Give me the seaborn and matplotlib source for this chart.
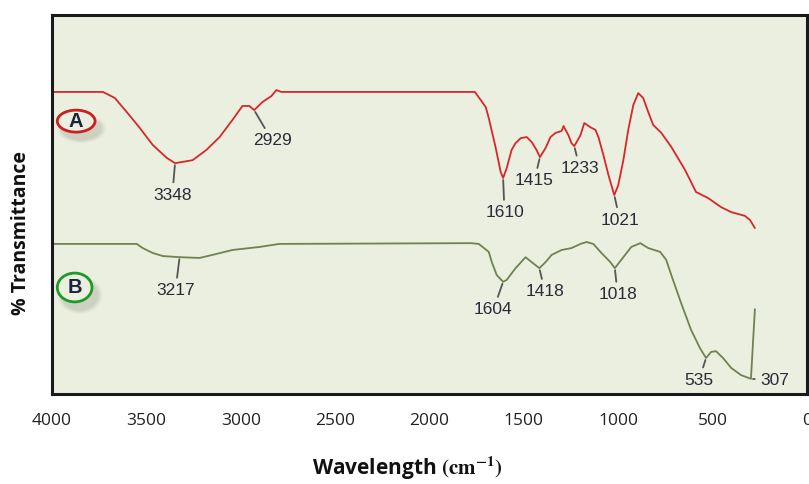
import numpy as np
import pandas as pd
import seaborn as sns
import matplotlib.pyplot as plt
from matplotlib.patches import Ellipse

# spectrum A (wavenumber, % transmittance on an arbitrary offset scale)
wn_a = [4000, 3730, 3667, 3604, 3535, 3466, 3392, 3348, 3255, 3182, 3112, 3044,
        2991, 2954, 2929, 2886, 2838, 2811, 2785, 1760, 1755, 1702, 1686, 1649,
        1623, 1610, 1591, 1565, 1544, 1517, 1485, 1459, 1433, 1415, 1385, 1359,
        1332, 1300, 1290, 1264, 1248, 1233, 1200, 1180, 1148, 1121, 1105, 1079,
        1052, 1026, 1021, 1000, 973, 947, 920, 894, 868, 841, 815, 772, 719,
        646, 588, 524, 455, 402, 329, 302, 276]
t_a = [79.7, 79.7, 78.1, 74.4, 70.2, 65.7, 62.3, 60.9, 61.7, 64.4, 67.8, 72.3,
       76.0, 76.0, 74.9, 77.0, 78.6, 80.2, 79.7, 79.7, 79.4, 75.7, 72.8, 64.9,
       58.6, 57.0, 59.6, 64.4, 66.2, 67.5, 67.8, 66.5, 64.4, 62.5, 64.9, 67.8,
       68.9, 69.4, 70.7, 68.3, 66.2, 65.4, 68.3, 71.5, 70.4, 69.7, 67.8, 63.1,
       57.8, 53.3, 52.5, 55.1, 61.7, 69.7, 76.3, 79.4, 78.1, 74.4, 71.0, 68.9, 65.2,
       59.1, 53.3, 51.7, 49.3, 48.0, 47.0, 45.9, 43.8]

# spectrum B
wn_b = [4000, 3551, 3519, 3466, 3413, 3324, 3218, 3150, 3044, 2901, 2796, 1780,
        1739, 1686, 1670, 1644, 1610, 1591, 1544, 1491, 1459, 1418, 1385, 1353,
        1300, 1248, 1200, 1168, 1132, 1089, 1042, 1018, 973, 931, 883, 841, 778,
        746, 719, 667, 614, 567, 535, 508, 482, 445, 402, 350, 297, 276]
t_b = [39.6, 39.6, 38.5, 37.2, 36.4, 36.1, 35.9, 36.7, 38.0, 38.8, 39.6, 39.8,
       39.6, 37.5, 34.8, 31.4, 29.6, 30.1, 33.2, 36.1, 34.8, 33.2, 34.8, 36.7,
       38.0, 38.5, 39.6, 40.1, 39.6, 37.2, 34.8, 33.2, 36.1, 38.8, 39.8, 38.5, 37.5,
       35.4, 31.4, 24.0, 16.9, 12.1, 9.5, 11.1, 11.3, 9.5, 6.9, 5.0, 4.0, 22.4]

# peak labels: text, wavenumber where the mark sits
peaks_a = ["3348", "2929", "1610", "1415", "1233", "1021"]
mark_a = [3348, 2929, 1610, 1415, 1233, 1021]
peaks_b = ["3217", "1604", "1418", "1018", "535", "307"]
mark_b = [3324, 1610, 1418, 1018, 535, 297]

# text offsets (points) of each label relative to its mark
off_a = [(-2, -23), (13, -22), (1, -25), (-4, -17), (4, -16), (4, -18)]
off_b = [(-3, -24), (-7, -20), (4, -17), (2, -19), (-5, -16), (17, -1)]

xticks = [4000, 3500, 3000, 2500, 2000, 1500, 1000, 500, 0]

sns.set_style("white")
plt.rcParams["font.family"] = ["Open Sans", "DejaVu Sans"]
plt.rcParams["mathtext.fontset"] = "stix"

fig = plt.figure(figsize=(8.09, 4.84), dpi=100)
ax = fig.add_axes([52 / 809, 90 / 484, 755 / 809, 379 / 484])
ax.set_facecolor("#EBEFDF")

df_a = pd.DataFrame({"wn": wn_a, "t": t_a})
df_b = pd.DataFrame({"wn": wn_b, "t": t_b})
red = "#D8262B"
olive = "#6F8250"
sns.lineplot(data=df_a, x="wn", y="t", sort=False, estimator=None,
             color=red, lw=1.3, ax=ax)
sns.lineplot(data=df_b, x="wn", y="t", sort=False, estimator=None,
             color=olive, lw=1.3, ax=ax)

ax.set_xlim(4000, 0)
ax.set_ylim(0, 100)
ax.set_xticks(xticks)
ax.set_xticklabels([str(v) for v in xticks], fontsize=12.5, color="#222222")
ax.set_yticks([])
ax.tick_params(axis="x", direction="out", length=5, width=1.2, color="#888888", pad=9)
for s in ax.spines.values():
    s.set_linewidth(2.2)
    s.set_color("#1a1a1a")


def label_peaks(labels, marks, offsets, wn, t):
    # interpolate on the monotonic part of the curve (B ends with a spike)
    n = len(wn) - 1 if wn is wn_b else len(wn)
    wn_r = np.array(wn[:n])[::-1]
    t_r = np.array(t[:n])[::-1]
    for lab, m, (dx, dy) in zip(labels, marks, offsets):
        y = np.interp(m, wn_r, t_r)
        ax.annotate(lab, xy=(m, y), xytext=(dx, dy), textcoords="offset points",
                    ha="center", va="center", fontsize=12.5, color="#2b2b3a",
                    family=["Liberation Sans", "DejaVu Sans"],
                    arrowprops=dict(arrowstyle="-", color="#555555", lw=1.3,
                                    shrinkA=1.5, shrinkB=1.5))


label_peaks(peaks_a, mark_a, off_a, wn_a, t_a)
label_peaks(peaks_b, mark_b, off_b, wn_b, t_b)

# circled series tags with soft shadow
for name, cx, cy, w, h, ec in [("A", 0.032, 0.720, 0.050, 0.058, "#CC1F22"),
                               ("B", 0.030, 0.281, 0.046, 0.076, "#1E9A28")]:
    for k, a in enumerate([0.05, 0.06, 0.07, 0.08]):
        sh = Ellipse((cx + 0.007, cy - 0.02), w * (1.3 - 0.08 * k), h * (1.3 - 0.08 * k),
                     transform=ax.transAxes, facecolor="#777766", edgecolor="none",
                     alpha=a, zorder=3)
        ax.add_patch(sh)
    ax.add_patch(Ellipse((cx, cy), w, h, transform=ax.transAxes,
                         facecolor="#EBEFDF", edgecolor=ec, lw=2.0, zorder=4))
    ax.text(cx, cy, name, transform=ax.transAxes, ha="center", va="center",
            fontsize=14.5, fontweight="bold", color="#1c2340", zorder=5,
            family=["Liberation Sans", "DejaVu Sans"])

ax.set_xlabel(r"Wavelength $\mathbf{(cm^{-1})}$", fontsize=15, fontweight="bold",
              color="#111111")
ax.xaxis.set_label_coords(0.47, -0.16)
ax.set_ylabel("% Transmittance", fontsize=14, fontweight="bold", color="#111111")
ax.yaxis.set_label_coords(-0.028, 0.425)

fig.savefig("out.png", dpi=100)
